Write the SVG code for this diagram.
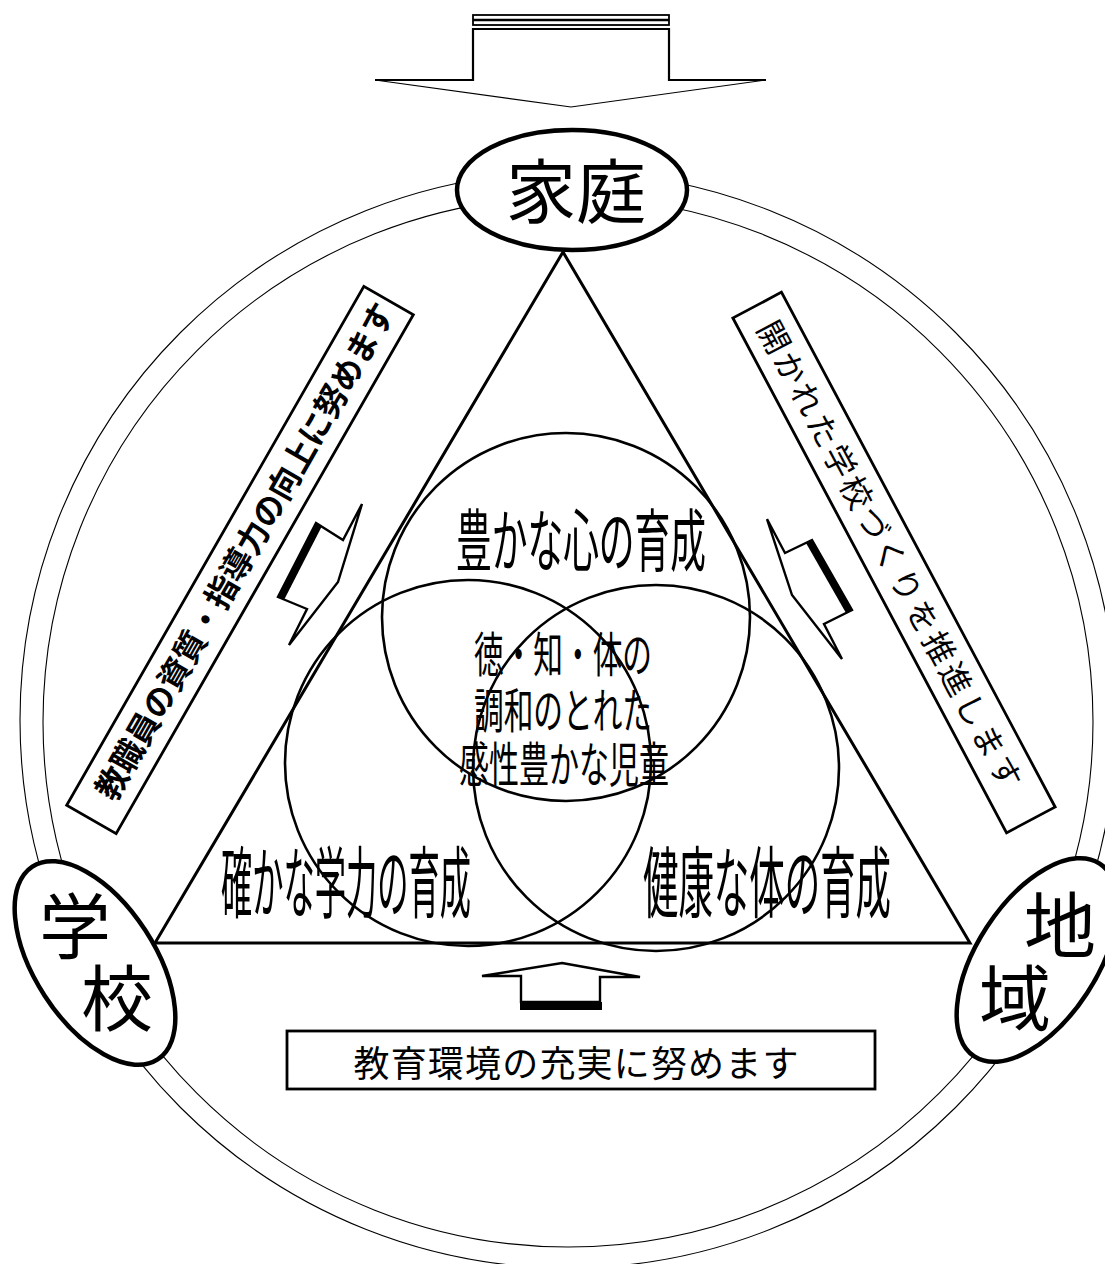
<svg xmlns="http://www.w3.org/2000/svg" width="1105" height="1264" viewBox="0 0 1105 1264">
<style>
.ring{fill:none;stroke:#000;stroke-width:1.1}
.tri{fill:none;stroke:#000;stroke-width:3}
.venn{fill:none;stroke:#000;stroke-width:2.6}
.node{fill:#fff;stroke:#000;stroke-width:4.5}
.box{fill:#fff;stroke:#000;stroke-width:2.8}
.arr{fill:#fff;stroke:#000;stroke-width:2.4;stroke-linejoin:miter}
.t{font-family:"Noto Sans CJK JP","Noto Sans CJK SC",sans-serif;fill:#000;text-anchor:middle}
</style>
<rect width="1105" height="1264" fill="#fff"/>
<g id="rings">
<circle class="ring" cx="568" cy="720" r="548"/>
<circle class="ring" cx="568" cy="722" r="525"/>
</g>
<g id="triangle">
<polygon class="tri" points="563,252 155,943 970,943"/>
</g>
<g id="venn">
<circle class="venn" cx="566" cy="617" r="184"/>
<circle class="venn" cx="468" cy="763" r="183"/>
<circle class="venn" cx="656" cy="768" r="183"/>
</g>
<g id="node-katei">
<ellipse class="node" cx="572" cy="190" rx="115" ry="60"/>
<text class="t" x="576" y="218" font-size="70">家庭</text>
</g>
<g id="node-gakko">
<ellipse class="node" cx="95" cy="963" rx="115" ry="60" transform="rotate(57 95 963)"/>
<text class="t" x="75" y="953" font-size="72">学</text>
<text class="t" x="117" y="1025" font-size="72">校</text>
</g>
<g id="node-chiiki">
<ellipse class="node" cx="1037" cy="960" rx="115" ry="60" transform="rotate(-57 1037 960)"/>
<text class="t" x="1060" y="952" font-size="72">地</text>
<text class="t" x="1015" y="1025" font-size="72">域</text>
</g>
<g id="box-left" transform="translate(240,560) rotate(-60.2)">
<rect class="box" x="-299" y="-28.5" width="598" height="57"/>
<text class="t" x="10" y="12" font-size="33" font-weight="bold" textLength="566" lengthAdjust="spacingAndGlyphs">教職員の資質・指導力の向上に努めます</text>
</g>
<g id="box-right" transform="translate(894,562.5) rotate(62)">
<rect class="box" x="-291.5" y="-27.5" width="583" height="55"/>
<text class="t" x="-9" y="12" font-size="32" textLength="525" lengthAdjust="spacing">開かれた学校づくりを推進します</text>
</g>
<g id="box-bottom">
<rect class="box" x="287" y="1031" width="588" height="58"/>
<text class="t" x="576" y="1077" font-size="36" textLength="445" lengthAdjust="spacing">教育環境の充実に努めます</text>
</g>
<g id="connectors">
<g id="arrow-top">
<rect x="473" y="15" width="196" height="10" fill="#fff" stroke="#000" stroke-width="1.8"/>
<line x1="473" y1="20" x2="669" y2="20" stroke="#000" stroke-width="2.4"/>
<polygon points="473,29 669,29 669,80 766,80 571,107 375,80 473,80" fill="#fff" stroke="none"/>
<polyline points="375,80 473,80 473,29 669,29 669,80 766,80" fill="none" stroke="#000" stroke-width="2.2"/>
<polyline points="375,80 571,107 766,80" fill="none" stroke="#000" stroke-width="1.1"/>
</g>
<g id="arrow-left">
<polygon class="arr" points="362,504 343,540 316,523 278,597 307,609 289,645 338,582"/>
<polygon points="316,523 278,597 284,600 322,526" fill="#000"/>
</g>
<g id="arrow-right">
<polygon class="arr" points="767,519 785,553 812,540 852,610 824,624 842,659 792,595"/>
<polygon points="812,540 852,610 846,613 806,543" fill="#000"/>
</g>
<g id="arrow-bottom">
<polygon class="arr" points="562,963 640,977 600,977 600,1002 521,1002 521,976 482,976"/>
<rect x="520" y="1002" width="82" height="8" fill="#000"/>
</g>
</g>
<g id="labels">
<text class="t" x="581" y="566" font-size="68" textLength="250" lengthAdjust="spacingAndGlyphs">豊かな心の育成</text>
<text class="t" x="346" y="912" font-size="78" textLength="250" lengthAdjust="spacingAndGlyphs">確かな学力の育成</text>
<text class="t" x="767" y="912" font-size="78" textLength="248" lengthAdjust="spacingAndGlyphs">健康な体の育成</text>
<text class="t" x="563" y="672" font-size="48" textLength="178" lengthAdjust="spacingAndGlyphs">徳・知・体の</text>
<text class="t" x="563" y="728" font-size="48" textLength="178" lengthAdjust="spacingAndGlyphs">調和のとれた</text>
<text class="t" x="564" y="782" font-size="48" textLength="210" lengthAdjust="spacingAndGlyphs">感性豊かな児童</text>
</g>
</svg>
